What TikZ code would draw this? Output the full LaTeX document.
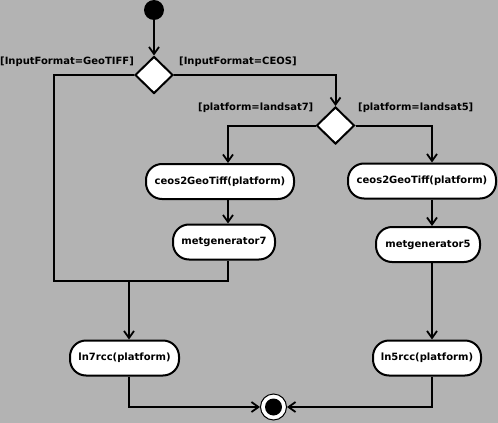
\documentclass[tikz,border=0pt]{standalone}
\usepackage{fontspec}
\setmainfont{DejaVu Sans}
\usetikzlibrary{arrows.meta,shapes.geometric}
\begin{document}
\begin{tikzpicture}[x=1pt,y=-1pt,
  font=\fontsize{10}{12}\bfseries,
  act/.style={draw=black,fill=white,line width=2pt,rounded corners=16pt,inner sep=0pt,minimum height=35pt},
  dec/.style={diamond,draw=black,fill=white,line width=2pt,inner sep=0pt,minimum width=38pt,minimum height=37pt},
  guard/.style={anchor=base west,inner sep=0pt},
  flow/.style={line width=2pt,-{Straight Barb[length=7pt,width=10pt,line width=1.8pt]}},
  line/.style={line width=2pt}]
\useasboundingbox[fill={rgb,255:red,179;green,179;blue,179}] (0,0) rectangle (498,423);
% start / end
\node[circle,fill=black,minimum size=20pt,inner sep=0pt] (start) at (154,10) {};
\node[circle,draw=black,line width=1pt,fill=white,minimum size=26pt,inner sep=0pt,
  path picture={\fill[black] (path picture bounding box.center) circle (8.5pt);}] (end) at (273.5,407) {};
% decisions
\node[dec] (d1) at (154,75) {};
\node[dec] (d2) at (335.5,125.5) {};
% activities
\node[act,minimum width=148pt] (ceosL) at (220,181.5) {ceos2GeoTiff(platform)};
\node[act,minimum width=102pt] (met7) at (224,242) {metgenerator7};
\node[act,minimum width=148pt] (ceosR) at (422,181) {ceos2GeoTiff(platform)};
\node[act,minimum width=104pt] (met5) at (428,244.5) {metgenerator5};
\node[act,minimum width=109pt] (ln7) at (124.5,358) {ln7rcc(platform)};
\node[act,minimum width=108pt] (ln5) at (427,358) {ln5rcc(platform)};
% guards
\node[guard] (g1) at (0,64.5) {[InputFormat=GeoTIFF]};
\node[guard] (g2) at (179,64.5) {[InputFormat=CEOS]};
\node[guard] (g3) at (198,110.5) {[platform=landsat7]};
\node[guard] (g4) at (358,110.5) {[platform=landsat5]};
% routing coordinates
\coordinate (xL) at (228,0);
\coordinate (xR) at (432,0);
\coordinate (xM) at (129,0);
\coordinate (cA) at (54,75);
\coordinate (cB) at (54,281);
\coordinate (cJ) at (129,281);
% connectors
\draw[flow] (start) -- (d1.north);
\draw[flow] (d1.east) -| (d2.north);
\draw[line] (d1.west) -- (cA) -- (cB) -- (xL |- cB) -- (xL |- met7.south);
\draw[flow] (cJ) -- (xM |- ln7.north);
\draw[flow] (d2.west) -| (xL |- ceosL.north);
\draw[flow] (d2.east) -| (xR |- ceosR.north);
\draw[flow] (xL |- ceosL.south) -- (xL |- met7.north);
\draw[flow] (xR |- ceosR.south) -- (xR |- met5.north);
\draw[flow] (xR |- met5.south) -- (xR |- ln5.north);
\draw[flow] (xM |- ln7.south) |- (end.west);
\draw[flow] (xR |- ln5.south) |- (end.east);
\end{tikzpicture}
\end{document}
